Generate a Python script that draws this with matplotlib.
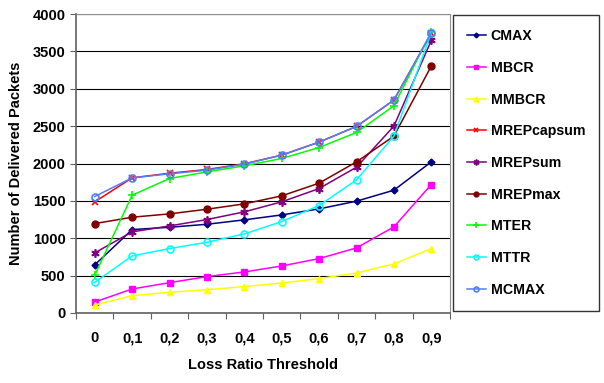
import numpy as np
import matplotlib
matplotlib.use("Agg")
import matplotlib.pyplot as plt

plt.rcParams['font.family'] = ['Liberation Sans', 'DejaVu Sans']
plt.rcParams['font.weight'] = 'bold'

# data
thresholds = ['0', '0,1', '0,2', '0,3', '0,4', '0,5', '0,6', '0,7', '0,8', '0,9']

cmax = [643, 1116, 1147, 1187, 1246, 1312, 1393, 1496, 1643, 2022]
mbcr = [147, 321, 406, 487, 549, 629, 728, 871, 1152, 1719]
mmbcr = [107, 232, 277, 312, 353, 402, 460, 536, 656, 862]
mrepcapsum = [1487, 1808, 1870, 1920, 1996, 2112, 2286, 2496, 2848, 3741]
mrepsum = [804, 1085, 1165, 1250, 1353, 1487, 1665, 1951, 2500, 3647]
mrepmax = [1196, 1281, 1326, 1388, 1460, 1567, 1737, 2022, 2366, 3304]
mter = [504, 1576, 1799, 1888, 1969, 2067, 2214, 2415, 2772, 3763]
mttr = [411, 763, 862, 946, 1058, 1223, 1438, 1781, 2366, 3750]
mcmax = [1558, 1808, 1862, 1911, 1991, 2112, 2286, 2496, 2848, 3746]

series = [
    ('CMAX', cmax, '#000080', 'D', dict(ms=3.5)),
    ('MBCR', mbcr, '#FF00FF', 's', dict(ms=5)),
    ('MMBCR', mmbcr, '#FFFF00', '^', dict(ms=5)),
    ('MREPcapsum', mrepcapsum, '#FF0000', 'x', dict(ms=5, mew=1.2)),
    ('MREPsum', mrepsum, '#800080', (6, 2, 0), dict(ms=6, mew=1.2)),
    ('MREPmax', mrepmax, '#800000', 'o', dict(ms=5)),
    ('MTER', mter, '#00FF00', '+', dict(ms=6, mew=1.2)),
    ('MTTR', mttr, '#00FFFF', 'o', dict(ms=5, mfc='none', mew=1.2)),
    ('MCMAX', mcmax, '#4F7FFF', 'o', dict(ms=5, mfc='none', mew=1.2)),
]

fig = plt.figure(figsize=(6.04, 3.83), dpi=100)
ax = fig.add_axes([76 / 604, 1 - 313 / 383, 374 / 604, 299 / 383])

x = np.arange(len(thresholds)) + 0.5
for i, (name, vals, col, mk, kw) in enumerate(series):
    ax.plot(x, vals, color=col, marker=mk, lw=1.1, label=name,
            zorder=3 + i, **kw)

ax.set_xlim(0, len(thresholds))
ax.set_ylim(0, 4000)
ax.set_yticks(np.arange(0, 4001, 500))
ax.yaxis.grid(True, color='black', lw=0.8)
ax.set_axisbelow(True)

ax.set_xticks(np.arange(0, len(thresholds) + 1))
ax.set_xticklabels([])
ax.set_xticks(x, minor=True)
ax.set_xticklabels(thresholds, minor=True)
ax.tick_params(axis='x', which='major', direction='out', length=4, color='#606060')
ax.tick_params(axis='x', which='minor', length=0, pad=13, labelsize=10.5)
ax.tick_params(axis='y', direction='out', length=4, color='#606060', labelsize=10.5)

for side in ['top', 'right']:
    ax.spines[side].set_color('#909090')
for side in ['left', 'bottom']:
    ax.spines[side].set_color('#606060')
    ax.spines[side].set_linewidth(1.2)

ax.set_xlabel('Loss Ratio Threshold', fontsize=10.5, fontweight='bold', labelpad=9)
ax.set_ylabel('Number of Delivered Packets', fontsize=10.5, fontweight='bold', labelpad=7)

leg = fig.legend(loc='upper left', bbox_to_anchor=(453 / 604, 1 - 15 / 383),
                 bbox_transform=fig.transFigure, frameon=True, fancybox=False,
                 edgecolor='black', fontsize=10.2, handlelength=1.3,
                 handletextpad=0.35, labelspacing=1.25, borderpad=1.0,
                 borderaxespad=0, markerscale=0.7)
leg.get_frame().set_linewidth(1.0)
for t in leg.get_texts():
    t.set_fontweight('bold')

fig.savefig('out.png', dpi=100)
